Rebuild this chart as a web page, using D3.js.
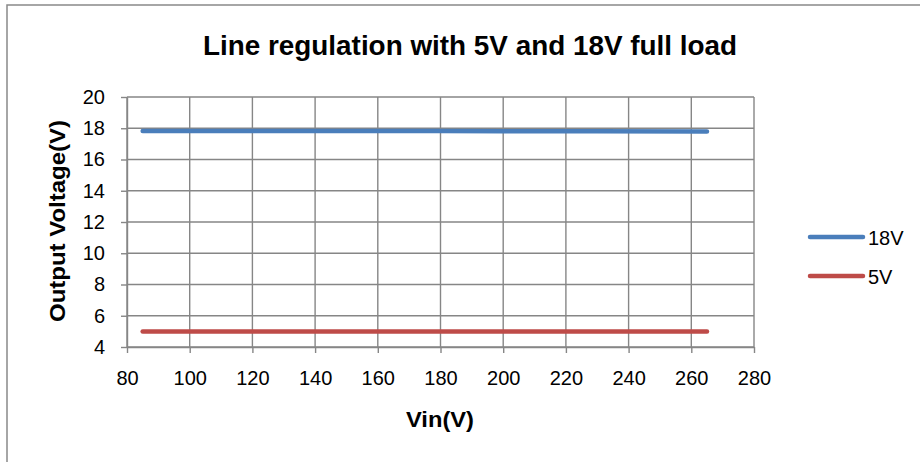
<!DOCTYPE html>
<html lang="en">
<head>
<meta charset="utf-8" />
<title>Line regulation</title>
<style>
  body { margin: 0; background: #fff; }
  svg text { font-family: "Liberation Sans", Arial, sans-serif; fill: #000; }
</style>
</head>
<body>
<div id="chart"></div>
<script src="https://cdn.jsdelivr.net/npm/d3@7"></script>
<script>
"use strict";

// data
let vin = [85, 100, 115, 132, 150, 180, 200, 230, 265]
let v18 = [17.83, 17.83, 17.83, 17.82, 17.82, 17.82, 17.81, 17.81, 17.80]
let v5 = [5.00, 5.00, 5.00, 5.00, 5.00, 5.00, 5.00, 5.00, 5.00]
let seriesNames = ["18V", "5V"]
let seriesColors = ["#4A7EBB", "#BE4B48"]
let xTicks = [80, 100, 120, 140, 160, 180, 200, 220, 240, 260, 280]
let yTicks = [4, 6, 8, 10, 12, 14, 16, 18, 20]

let width = 920
let height = 462
let plot = {left: 127, right: 754, top: 97, bottom: 347}
let grid = "#868686"

let svg = d3.select("#chart").append("svg")
  .attr("width", width)
  .attr("height", height)

// chart frame
svg.append("rect")
  .attr("x", 7).attr("y", 5)
  .attr("width", 940).attr("height", 480)
  .attr("fill", "#fff")
  .attr("stroke", "#898989")
  .attr("stroke-width", 1.5)

let x = d3.scaleLinear().domain([80, 280]).range([plot.left, plot.right])
let y = d3.scaleLinear().domain([4, 20]).range([plot.bottom, plot.top])

// gridlines
svg.append("g").selectAll("line").data(xTicks).join("line")
  .attr("x1", d => x(d)).attr("x2", d => x(d))
  .attr("y1", plot.top).attr("y2", plot.bottom)
  .attr("stroke", grid).attr("stroke-width", 1.4)
svg.append("g").selectAll("line").data(yTicks).join("line")
  .attr("x1", plot.left).attr("x2", plot.right)
  .attr("y1", d => y(d)).attr("y2", d => y(d))
  .attr("stroke", grid).attr("stroke-width", 1.4)

let xAxis = svg.append("g")
  .attr("transform", `translate(0,${plot.bottom})`)
  .call(d3.axisBottom(x).tickValues(xTicks).tickSize(6).tickSizeOuter(0).tickPadding(18))
let yAxis = svg.append("g")
  .attr("transform", `translate(${plot.left},0)`)
  .call(d3.axisLeft(y).tickValues(yTicks).tickSize(6).tickSizeOuter(0).tickPadding(16))
;[xAxis, yAxis].forEach(a => {
  a.select(".domain").attr("stroke", grid).attr("stroke-width", 1.4)
  a.selectAll(".tick line").attr("stroke", grid).attr("stroke-width", 1.4)
  a.selectAll(".tick text").attr("font-size", 20).attr("fill", "#000")
    .style("font-family", "'Liberation Sans', Arial, sans-serif")
})

// series
let rows = [v18, v5]
let line = d3.line().x((d, i) => x(vin[i])).y(d => y(d))
rows.forEach((vals, k) => {
  svg.append("path")
    .datum(vals)
    .attr("fill", "none")
    .attr("stroke", seriesColors[k])
    .attr("stroke-width", 4.5)
    .attr("stroke-linecap", "round")
    .attr("stroke-linejoin", "round")
    .attr("d", line)
})

// title and axis titles
svg.append("text")
  .attr("x", 470).attr("y", 55)
  .attr("text-anchor", "middle")
  .attr("font-size", 28).attr("font-weight", "bold")
  .attr("textLength", 534).attr("lengthAdjust", "spacingAndGlyphs")
  .text("Line regulation with 5V and 18V full load")

svg.append("text")
  .attr("x", 440).attr("y", 427)
  .attr("text-anchor", "middle")
  .attr("font-size", 22).attr("font-weight", "bold")
  .attr("textLength", 68).attr("lengthAdjust", "spacingAndGlyphs")
  .text("Vin(V)")

svg.append("text")
  .attr("transform", "translate(65,221) rotate(-90)")
  .attr("text-anchor", "middle")
  .attr("font-size", 22).attr("font-weight", "bold")
  .attr("textLength", 202).attr("lengthAdjust", "spacingAndGlyphs")
  .text("Output Voltage(V)")

// legend
let legend = svg.append("g").selectAll("g").data(seriesNames).join("g")
  .attr("transform", (d, i) => `translate(810,${237 + i * 39})`)
legend.append("line")
  .attr("x1", 0).attr("x2", 53)
  .attr("stroke", (d, i) => seriesColors[i])
  .attr("stroke-width", 4.5)
  .attr("stroke-linecap", "round")
legend.append("text")
  .attr("x", 58).attr("y", 7.5)
  .attr("font-size", 20)
  .text(d => d)
</script>
</body>
</html>
